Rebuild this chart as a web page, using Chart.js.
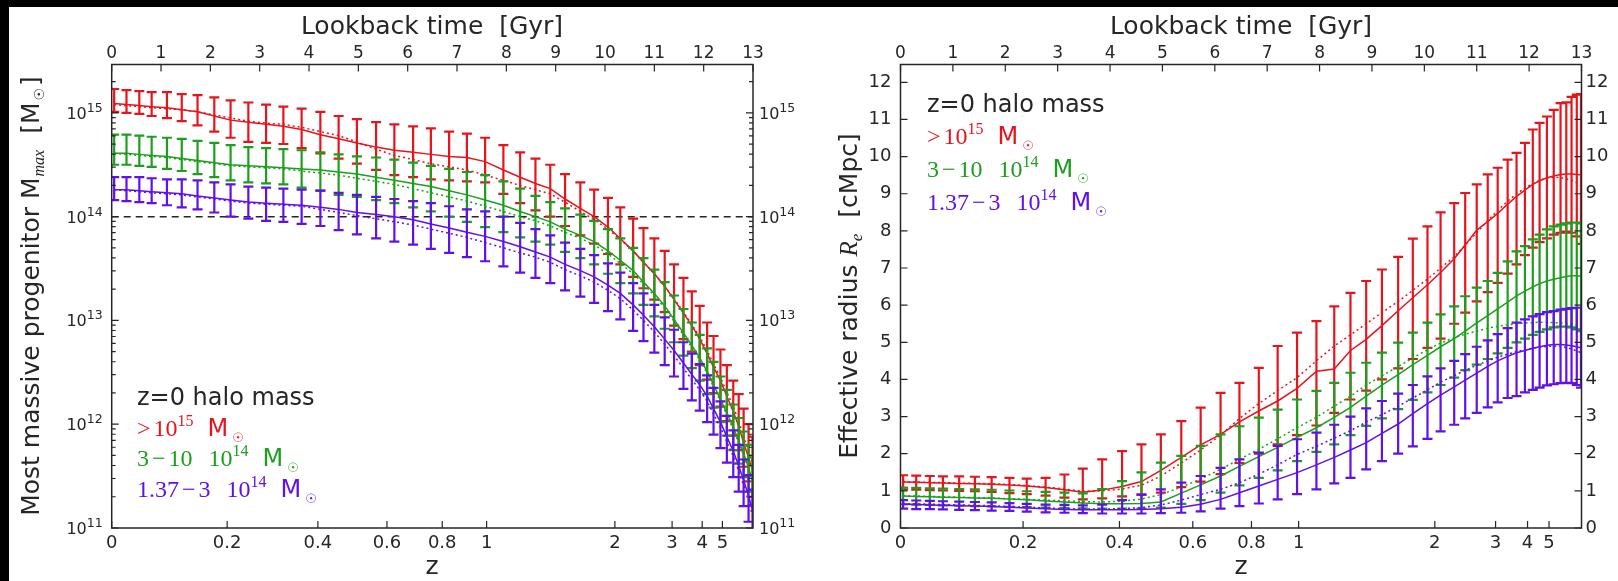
<!DOCTYPE html>
<html>
<head>
<meta charset="utf-8">
<script src="https://cdn.jsdelivr.net/npm/chart.js@4.4.1/dist/chart.umd.min.js"></script>
<style>
  html, body { margin: 0; padding: 0; background: #fff; }
  body { width: 1618px; height: 581px; position: relative; overflow: hidden; }
  canvas { position: absolute; top: 0; }
  .edge { position: absolute; background: #000; }
</style>
</head>
<body>
<canvas id="massChart" width="809" height="581" style="left:0"></canvas>
<canvas id="radiusChart" width="809" height="581" style="left:809px"></canvas>
<div class="edge" style="left:0;top:0;width:1618px;height:7px"></div>
<div class="edge" style="left:0;top:0;width:9px;height:581px"></div>
<script>
// Snapshot lookback times [Gyr], shared by both panels
const lookbackGyr = [0.05,0.30,0.56,0.81,1.12,1.42,1.74,2.08,2.41,2.77,3.13,3.48,3.85,4.23,4.60,4.97,5.36,5.73,6.11,6.47,6.84,7.20,7.57,7.94,8.28,8.59,8.89,9.19,9.50,9.78,10.06,10.31,10.57,10.78,11.00,11.21,11.40,11.59,11.76,11.92,12.07,12.20,12.34,12.47,12.60,12.71,12.81,12.91,12.99];

// Axis ticks
const gyrTicks = [0,1,2,3,4,5,6,7,8,9,10,11,12,13];
const zTickLabels = ['0','0.2','0.4','0.6','0.8','1','2','3','4','5'];
const zTickGyr = [0, 2.34, 4.18, 5.58, 6.70, 7.60, 10.20, 11.36, 11.97, 12.38];
const massTicks = [11, 12, 13, 14, 15];
const radiusTicks = [0,1,2,3,4,5,6,7,8,9,10,11,12];

// Left panel: log10 of most massive progenitor mass [Msun]
const massRedMed  = [15.09,15.08,15.07,15.06,15.05,15.03,15.01,14.97,14.93,14.91,14.89,14.87,14.84,14.79,14.75,14.71,14.67,14.64,14.62,14.60,14.58,14.57,14.53,14.45,14.38,14.32,14.27,14.17,14.08,14.00,13.90,13.79,13.67,13.56,13.45,13.33,13.20,13.07,12.95,12.82,12.68,12.55,12.42,12.27,12.12,11.98,11.82,11.68,11.55];
const massRedMean = [15.08,15.07,15.06,15.05,15.04,15.03,15.01,14.98,14.95,14.92,14.90,14.89,14.86,14.82,14.78,14.72,14.65,14.59,14.55,14.51,14.48,14.45,14.40,14.35,14.30,14.26,14.22,14.14,14.05,13.97,13.88,13.78,13.67,13.56,13.45,13.33,13.21,13.08,12.96,12.84,12.71,12.58,12.45,12.31,12.17,12.03,11.88,11.74,11.62];
const massRedHi   = [15.23,15.22,15.21,15.20,15.20,15.18,15.17,15.15,15.12,15.10,15.08,15.06,15.04,15.01,14.97,14.94,14.91,14.89,14.87,14.85,14.82,14.80,14.76,14.69,14.62,14.56,14.50,14.41,14.33,14.26,14.18,14.09,13.98,13.89,13.79,13.67,13.54,13.41,13.28,13.14,12.98,12.85,12.72,12.57,12.42,12.29,12.15,12.00,11.88];
const massRedLo   = [15.01,15.00,14.99,14.97,14.95,14.92,14.88,14.82,14.76,14.72,14.71,14.70,14.66,14.61,14.56,14.51,14.45,14.40,14.38,14.36,14.35,14.34,14.33,14.22,14.13,14.06,14.00,13.91,13.82,13.74,13.64,13.54,13.42,13.31,13.20,13.08,12.95,12.82,12.70,12.57,12.43,12.30,12.17,12.03,11.89,11.75,11.59,11.45,11.30];

const massGreenMed  = [14.61,14.61,14.60,14.59,14.58,14.56,14.54,14.52,14.50,14.49,14.48,14.47,14.46,14.45,14.43,14.41,14.38,14.35,14.32,14.29,14.25,14.21,14.16,14.11,14.05,14.00,13.95,13.88,13.82,13.76,13.67,13.58,13.48,13.37,13.26,13.14,13.01,12.88,12.76,12.64,12.51,12.38,12.24,12.11,11.97,11.84,11.72,11.58,11.45];
const massGreenMean = [14.61,14.60,14.59,14.58,14.57,14.55,14.53,14.51,14.49,14.48,14.47,14.46,14.44,14.42,14.40,14.37,14.34,14.31,14.27,14.23,14.19,14.15,14.10,14.05,14.00,13.96,13.91,13.85,13.79,13.73,13.64,13.55,13.45,13.35,13.24,13.12,12.99,12.86,12.74,12.62,12.49,12.36,12.22,12.09,11.95,11.82,11.70,11.56,11.43];
const massGreenHi   = [14.79,14.79,14.78,14.77,14.76,14.75,14.73,14.71,14.69,14.67,14.66,14.65,14.64,14.62,14.60,14.58,14.57,14.55,14.52,14.49,14.46,14.43,14.40,14.34,14.27,14.20,14.14,14.08,14.02,13.96,13.88,13.79,13.70,13.60,13.49,13.37,13.24,13.11,12.98,12.86,12.73,12.60,12.46,12.33,12.19,12.06,11.93,11.80,11.68];
const massGreenLo   = [14.50,14.50,14.49,14.48,14.46,14.44,14.41,14.38,14.35,14.33,14.32,14.31,14.28,14.25,14.21,14.19,14.16,14.13,14.09,14.05,14.00,13.95,13.90,13.85,13.80,13.76,13.73,13.66,13.60,13.54,13.45,13.36,13.26,13.15,13.04,12.92,12.79,12.66,12.54,12.42,12.29,12.16,12.02,11.89,11.75,11.62,11.49,11.35,11.22];

const massVioletMed  = [14.26,14.26,14.25,14.24,14.23,14.22,14.20,14.18,14.16,14.14,14.13,14.12,14.11,14.09,14.07,14.04,14.02,14.00,13.97,13.93,13.89,13.85,13.81,13.76,13.71,13.66,13.61,13.54,13.48,13.42,13.34,13.26,13.15,13.05,12.94,12.82,12.71,12.59,12.48,12.38,12.27,12.15,12.02,11.88,11.74,11.60,11.46,11.31,11.17];
const massVioletMean = [14.26,14.25,14.24,14.23,14.22,14.21,14.19,14.17,14.15,14.13,14.12,14.11,14.10,14.07,14.04,14.01,13.98,13.95,13.92,13.88,13.84,13.80,13.75,13.70,13.65,13.61,13.56,13.49,13.43,13.37,13.29,13.21,13.10,13.00,12.89,12.77,12.66,12.54,12.43,12.33,12.22,12.10,11.97,11.83,11.69,11.55,11.41,11.26,11.12];
const massVioletHi   = [14.38,14.38,14.38,14.37,14.36,14.36,14.35,14.33,14.31,14.29,14.28,14.27,14.26,14.25,14.23,14.21,14.19,14.17,14.15,14.13,14.10,14.07,14.05,14.00,13.94,13.88,13.82,13.75,13.69,13.63,13.55,13.46,13.36,13.26,13.15,13.03,12.91,12.79,12.68,12.58,12.47,12.35,12.22,12.08,11.94,11.80,11.66,11.51,11.37];
const massVioletLo   = [14.16,14.15,14.14,14.13,14.11,14.09,14.07,14.04,14.00,13.98,13.96,13.95,13.93,13.91,13.87,13.83,13.79,13.76,13.73,13.69,13.65,13.61,13.57,13.52,13.46,13.41,13.36,13.29,13.23,13.17,13.09,13.01,12.90,12.80,12.69,12.57,12.46,12.34,12.23,12.13,12.02,11.90,11.77,11.63,11.49,11.35,11.21,11.06,10.92];

// Horizontal reference at 10^14 Msun
const refLineGyr = [0, 13];
const massRefLine = [14, 14];

// Right panel: effective radius [cMpc]
const radRedMed  = [1.24,1.23,1.22,1.21,1.20,1.19,1.18,1.16,1.13,1.09,1.03,0.96,1.02,1.12,1.25,1.55,1.90,2.24,2.52,2.86,3.15,3.42,3.76,4.22,4.28,4.78,5.08,5.45,5.85,6.20,6.55,6.88,7.25,7.62,8.02,8.25,8.47,8.72,8.93,9.10,9.25,9.35,9.43,9.48,9.52,9.53,9.53,9.52,9.51];
const radRedMean = [1.25,1.24,1.23,1.22,1.21,1.20,1.19,1.17,1.14,1.10,1.05,0.99,1.00,1.05,1.15,1.40,1.75,2.10,2.50,2.95,3.35,3.70,4.05,4.50,4.90,5.20,5.50,5.80,6.10,6.40,6.70,7.00,7.30,7.62,7.95,8.28,8.55,8.80,9.00,9.15,9.27,9.36,9.42,9.45,9.43,9.40,9.36,9.30,9.22];
const radRedHi   = [1.42,1.41,1.40,1.39,1.39,1.38,1.37,1.35,1.33,1.35,1.44,1.60,1.85,2.07,2.25,2.52,2.88,3.24,3.64,3.91,4.31,4.90,5.26,5.57,5.97,6.33,6.65,6.96,7.30,7.79,8.12,8.50,8.75,9.02,9.25,9.52,9.70,9.92,10.10,10.37,10.73,10.91,11.08,11.26,11.44,11.46,11.61,11.67,11.68];
const radRedLo   = [1.04,1.03,1.02,1.01,1.00,0.99,0.97,0.94,0.91,0.87,0.82,0.77,0.80,0.85,0.90,0.95,1.10,1.25,1.45,1.75,2.00,2.25,2.50,2.76,3.10,3.46,3.70,4.00,4.30,4.55,4.85,5.10,5.50,5.80,6.10,6.35,6.60,6.85,7.10,7.35,7.55,7.70,7.80,7.90,7.95,7.98,7.95,7.85,7.65];

const radGreenMed  = [0.86,0.85,0.84,0.83,0.82,0.81,0.80,0.78,0.76,0.73,0.70,0.67,0.65,0.65,0.66,0.70,0.94,1.16,1.40,1.66,1.92,2.17,2.44,2.70,2.98,3.25,3.55,3.85,4.13,4.40,4.65,4.88,5.10,5.30,5.52,5.72,5.90,6.08,6.25,6.38,6.49,6.58,6.65,6.70,6.74,6.77,6.79,6.79,6.78];
const radGreenMean = [0.87,0.86,0.85,0.84,0.83,0.82,0.81,0.79,0.77,0.75,0.73,0.71,0.70,0.72,0.78,0.90,1.10,1.32,1.58,1.85,2.12,2.40,2.70,2.98,3.28,3.55,3.85,4.10,4.35,4.58,4.80,4.98,5.12,5.22,5.30,5.38,5.43,5.47,5.50,5.52,5.53,5.54,5.54,5.53,5.52,5.50,5.48,5.46,5.43];
const radGreenHi   = [1.09,1.08,1.07,1.06,1.05,1.04,1.03,1.01,0.99,0.97,0.95,0.93,1.05,1.26,1.50,1.76,1.94,2.21,2.52,2.74,2.97,3.19,3.46,3.69,3.91,4.18,4.45,4.72,4.99,5.26,5.53,5.75,5.97,6.24,6.47,6.65,6.87,7.18,7.45,7.59,7.77,7.90,8.04,8.12,8.17,8.20,8.22,8.22,8.20];
const radGreenLo   = [0.64,0.63,0.62,0.61,0.60,0.59,0.58,0.57,0.56,0.55,0.54,0.53,0.52,0.52,0.52,0.55,0.65,0.75,0.95,1.15,1.35,1.55,1.80,2.05,2.25,2.50,2.75,2.95,3.20,3.45,3.65,3.85,4.05,4.25,4.40,4.55,4.70,4.85,5.00,5.10,5.20,5.28,5.35,5.40,5.42,5.42,5.40,5.35,5.30];

const radVioletMed  = [0.64,0.63,0.62,0.61,0.60,0.59,0.58,0.56,0.54,0.52,0.50,0.49,0.49,0.49,0.50,0.52,0.56,0.64,0.77,0.95,1.13,1.31,1.49,1.70,1.90,2.10,2.30,2.55,2.80,3.08,3.35,3.58,3.80,3.98,4.17,4.35,4.50,4.62,4.72,4.78,4.84,4.88,4.92,4.94,4.94,4.93,4.91,4.88,4.85];
const radVioletMean = [0.66,0.65,0.64,0.63,0.62,0.61,0.60,0.58,0.56,0.54,0.52,0.51,0.51,0.52,0.55,0.62,0.75,0.90,1.04,1.22,1.45,1.70,1.98,2.20,2.42,2.62,2.85,3.05,3.28,3.50,3.72,3.93,4.10,4.25,4.38,4.50,4.60,4.68,4.75,4.80,4.84,4.87,4.89,4.90,4.89,4.86,4.82,4.77,4.72];
const radVioletHi   = [0.75,0.74,0.73,0.72,0.71,0.70,0.69,0.67,0.65,0.63,0.62,0.61,0.63,0.75,0.90,1.04,1.22,1.40,1.62,1.85,2.03,2.21,2.39,2.57,2.78,3.00,3.22,3.42,3.62,3.85,4.08,4.30,4.50,4.68,4.88,5.05,5.22,5.38,5.53,5.62,5.70,5.76,5.81,5.84,5.88,5.90,5.92,5.93,5.93];
const radVioletLo   = [0.52,0.51,0.51,0.50,0.49,0.48,0.47,0.46,0.44,0.42,0.41,0.40,0.39,0.39,0.39,0.40,0.41,0.45,0.52,0.59,0.66,0.77,0.91,1.04,1.20,1.35,1.58,1.80,2.00,2.20,2.40,2.60,2.78,2.95,3.10,3.25,3.38,3.50,3.55,3.65,3.72,3.78,3.84,3.87,3.90,3.91,3.90,3.85,3.78];

const SANS = 'DejaVu Sans';
const SERIF = 'Liberation Serif';
const INK = '#262626';
const RED = '#e8141c', GREEN = '#1d9e1d', VIOLET = '#6010e8';

const sf = s => `${s}px ${SERIF}`;
const ss = s => `${s}px ${SANS}`;

function pts(ys, xs = lookbackGyr) {
  return ys.map((y, i) => ({ x: xs[i], y }));
}

// mean (dotted) first, median (solid, carries the error bars) second
function seriesSets(color, mean, med, lo, hi, order) {
  return [
    { data: pts(mean), borderColor: color, borderWidth: 1.5, borderDash: [2, 3], pointRadius: 0, order },
    { data: pts(med), borderColor: color, borderWidth: 1.5, pointRadius: 0, order, errLo: lo, errHi: hi },
  ];
}

const errorBars = {
  id: 'errorBars',
  beforeDatasetDraw(chart, args) {
    const ds = chart.data.datasets[args.index];
    if (!ds.errLo) return;
    const { ctx, chartArea: a } = chart;
    const xs = chart.scales.x, ys = chart.scales.y;
    ctx.save();
    ctx.beginPath();
    ctx.rect(a.left, a.top, a.right - a.left, a.bottom - a.top);
    ctx.clip();
    ctx.strokeStyle = ds.borderColor;
    ctx.lineWidth = 2.2;
    ctx.beginPath();
    lookbackGyr.forEach((t, i) => {
      const px = xs.getPixelForValue(t);
      const y0 = ys.getPixelForValue(ds.errLo[i]);
      const y1 = ys.getPixelForValue(ds.errHi[i]);
      ctx.moveTo(px, y0); ctx.lineTo(px, y1);
      ctx.moveTo(px - 5, y0); ctx.lineTo(px + 5, y0);
      ctx.moveTo(px - 5, y1); ctx.lineTo(px + 5, y1);
    });
    ctx.stroke();
    ctx.restore();
  }
};

// text pieces with mixed fonts and super/subscripts
function richWidth(ctx, parts) {
  let w = 0;
  parts.forEach(p => { ctx.font = p.f; w += (p.gap || 0) + ctx.measureText(p.t).width; });
  return w;
}
function drawRich(ctx, parts, x, y, color) {
  let cx = x;
  ctx.fillStyle = color;
  ctx.textBaseline = 'alphabetic';
  ctx.textAlign = 'left';
  parts.forEach(p => {
    ctx.font = p.f;
    cx += p.gap || 0;
    ctx.fillText(p.t, cx, y + (p.dy || 0));
    cx += ctx.measureText(p.t).width;
  });
}
function drawRichRotated(ctx, parts, cx, cy, color) {
  ctx.save();
  ctx.translate(cx, cy);
  ctx.rotate(-Math.PI / 2);
  drawRich(ctx, parts, -richWidth(ctx, parts) / 2, 9, color);
  ctx.restore();
}
function centerText(ctx, text, x, y, font) {
  ctx.font = font;
  ctx.fillStyle = INK;
  ctx.textAlign = 'center';
  ctx.textBaseline = 'middle';
  ctx.fillText(text, x, y);
}

// frame, inward ticks and all tick labels
function frameTicks(cfg) {
  return {
    id: 'frameTicks',
    afterDatasetsDraw(chart) {
      const { ctx, chartArea: a, scales } = chart;
      ctx.save();
      ctx.strokeStyle = INK;
      ctx.lineWidth = 1.2;
      ctx.beginPath();
      scales.x.ticks.forEach(t => {
        const p = scales.x.getPixelForValue(t.value);
        ctx.moveTo(p, a.top); ctx.lineTo(p, a.top + 7);
      });
      scales.xb.ticks.forEach(t => {
        const p = scales.xb.getPixelForValue(t.value);
        ctx.moveTo(p, a.bottom); ctx.lineTo(p, a.bottom - 7);
      });
      scales.y.ticks.forEach(t => {
        const p = scales.y.getPixelForValue(t.value);
        ctx.moveTo(a.left, p); ctx.lineTo(a.left + 7, p);
        ctx.moveTo(a.right, p); ctx.lineTo(a.right - 7, p);
      });
      if (cfg.minorLog) {
        const ys = scales.y;
        for (let n = Math.floor(ys.min); n < ys.max; n++) {
          for (let k = 2; k < 10; k++) {
            const v = n + Math.log10(k);
            if (v > ys.max) continue;
            const p = ys.getPixelForValue(v);
            ctx.moveTo(a.left, p); ctx.lineTo(a.left + 4, p);
            ctx.moveTo(a.right, p); ctx.lineTo(a.right - 4, p);
          }
        }
      }
      ctx.stroke();
      ctx.lineWidth = 1.5;
      ctx.strokeRect(a.left, a.top, a.right - a.left, a.bottom - a.top);

      // tick labels
      ctx.fillStyle = INK;
      ctx.textBaseline = 'middle';
      ctx.textAlign = 'center';
      ctx.font = ss(17);
      scales.x.ticks.forEach(t => ctx.fillText(String(t.value), scales.x.getPixelForValue(t.value), a.top - 11));
      ctx.font = ss(18);
      scales.xb.ticks.forEach((t, i) => ctx.fillText(zTickLabels[i], scales.xb.getPixelForValue(t.value), a.bottom + 15));
      scales.y.ticks.forEach(t => {
        const p = scales.y.getPixelForValue(t.value);
        cfg.yLabel(ctx, t.value, a.left - cfg.leftPad, p, 'right');
        cfg.yLabel(ctx, t.value, a.right + cfg.rightPad, p, 'left');
      });
      ctx.restore();
    }
  };
}

function massLabel(ctx, v, x, y, side) {
  const parts = [{ t: '10', f: ss(16) }, { t: String(v), f: ss(12.5), dy: -7 }];
  const w = richWidth(ctx, parts);
  drawRich(ctx, parts, side === 'right' ? x - w : x, y + 6, INK);
}
function radiusLabel(ctx, v, x, y, side) {
  ctx.font = ss(18);
  ctx.textAlign = side;
  ctx.textBaseline = 'middle';
  ctx.fillStyle = INK;
  ctx.fillText(String(v), x, y);
}

const sun = { t: '\u2609', f: ss(13), dy: 6, gap: 4 };

function drawLegend(ctx, x0, baselines) {
  drawRich(ctx, [{ t: 'z=0 halo mass', f: ss(24) }], x0, baselines[0], INK);
  drawRich(ctx, [
    { t: '>', f: sf(24) }, { t: '10', f: sf(24), gap: 3 }, { t: '15', f: sf(16), dy: -10 },
    { t: 'M', f: ss(24), gap: 14 }, sun
  ], x0, baselines[1], RED);
  drawRich(ctx, [
    { t: '3', f: sf(24) }, { t: '\u2212', f: sf(24), gap: 3 }, { t: '10', f: sf(24), gap: 3 },
    { t: '10', f: sf(24), gap: 16 }, { t: '14', f: sf(16), dy: -10 },
    { t: 'M', f: ss(24), gap: 14 }, sun
  ], x0, baselines[2], GREEN);
  drawRich(ctx, [
    { t: '1.37', f: sf(24) }, { t: '\u2212', f: sf(24), gap: 3 }, { t: '3', f: sf(24), gap: 3 },
    { t: '10', f: sf(24), gap: 16 }, { t: '14', f: sf(16), dy: -10 },
    { t: 'M', f: ss(24), gap: 14 }, sun
  ], x0, baselines[3], VIOLET);
}

function panelOptions(cfg) {
  const fixTicks = list => s => { s.ticks = list.map(v => ({ value: v })); };
  const hidden = { display: false };
  const yScale = (pos, width) => ({
    type: 'linear', position: pos, min: cfg.yMin, max: cfg.yMax,
    grid: hidden, border: hidden, ticks: hidden,
    afterBuildTicks: fixTicks(cfg.yTicks),
    afterFit: s => { s.width = width; }
  });
  return {
    responsive: false,
    animation: false,
    events: [],
    layout: { padding: 0 },
    plugins: { legend: { display: false }, tooltip: { enabled: false } },
    elements: { line: { tension: 0, fill: false } },
    scales: {
      x: {
        type: 'linear', position: 'top', min: 0, max: 13,
        grid: hidden, border: hidden, ticks: hidden,
        afterBuildTicks: fixTicks(gyrTicks),
        afterFit: s => { s.height = 64.5; }
      },
      xb: {
        type: 'linear', position: 'bottom', min: 0, max: 13,
        grid: hidden, border: hidden, ticks: hidden,
        afterBuildTicks: fixTicks(zTickGyr),
        afterFit: s => { s.height = 53; }
      },
      y: yScale('left', cfg.leftW),
      y2: yScale('right', cfg.rightW)
    }
  };
}

function renderMassPanel() {
  const datasets = [
    ...seriesSets(RED, massRedMean, massRedMed, massRedLo, massRedHi, 3),
    ...seriesSets(GREEN, massGreenMean, massGreenMed, massGreenLo, massGreenHi, 2),
    ...seriesSets(VIOLET, massVioletMean, massVioletMed, massVioletLo, massVioletHi, 1),
    { data: pts(massRefLine, refLineGyr), borderColor: INK, borderWidth: 1.5, borderDash: [7, 5], pointRadius: 0, order: 5 }
  ];
  new Chart(document.getElementById('massChart'), {
    type: 'line',
    data: { datasets },
    options: panelOptions({ yMin: 11, yMax: 15.466, yTicks: massTicks, leftW: 111.7, rightW: 56 }),
    plugins: [errorBars, frameTicks({ minorLog: true, yLabel: massLabel, leftPad: 9, rightPad: 6 }), {
      id: 'massText',
      afterDraw(chart) {
        const ctx = chart.ctx;
        centerText(ctx, 'Lookback time  [Gyr]', 432, 27, ss(25));
        centerText(ctx, 'z', 432, 567, ss(25));
        drawRichRotated(ctx, [
          { t: 'Most massive progenitor M', f: ss(25) },
          { t: 'max', f: `italic 16px ${SERIF}`, dy: 5, gap: 1 },
          { t: '[M', f: ss(25), gap: 16 },
          { t: '\u2609', f: ss(14), dy: 5, gap: 2 },
          { t: ']', f: ss(25), gap: 2 }
        ], 30, 296, INK);
        drawLegend(ctx, 137, [405, 436, 466, 497]);
      }
    }]
  });
}

function renderRadiusPanel() {
  const datasets = [
    ...seriesSets(RED, radRedMean, radRedMed, radRedLo, radRedHi, 3),
    ...seriesSets(GREEN, radGreenMean, radGreenMed, radGreenLo, radGreenHi, 2),
    ...seriesSets(VIOLET, radVioletMean, radVioletMed, radVioletLo, radVioletHi, 1)
  ];
  new Chart(document.getElementById('radiusChart'), {
    type: 'line',
    data: { datasets },
    options: panelOptions({ yMin: 0, yMax: 12.48, yTicks: radiusTicks, leftW: 91.5, rightW: 36.5 }),
    plugins: [errorBars, frameTicks({ minorLog: false, yLabel: radiusLabel, leftPad: 9, rightPad: 4 }), {
      id: 'radiusText',
      afterDraw(chart) {
        const ctx = chart.ctx;
        centerText(ctx, 'Lookback time  [Gyr]', 432, 27, ss(25));
        centerText(ctx, 'z', 432, 567, ss(25));
        drawRichRotated(ctx, [
          { t: 'Effective radius ', f: ss(25) },
          { t: 'R', f: `italic 25px ${SERIF}` },
          { t: 'e', f: `italic 17px ${SERIF}`, dy: 5 },
          { t: '[cMpc]', f: ss(25), gap: 16 }
        ], 39, 296, INK);
        drawLegend(ctx, 118, [112, 144, 177, 210]);
      }
    }]
  });
}

renderMassPanel();
renderRadiusPanel();
</script>
</body>
</html>
